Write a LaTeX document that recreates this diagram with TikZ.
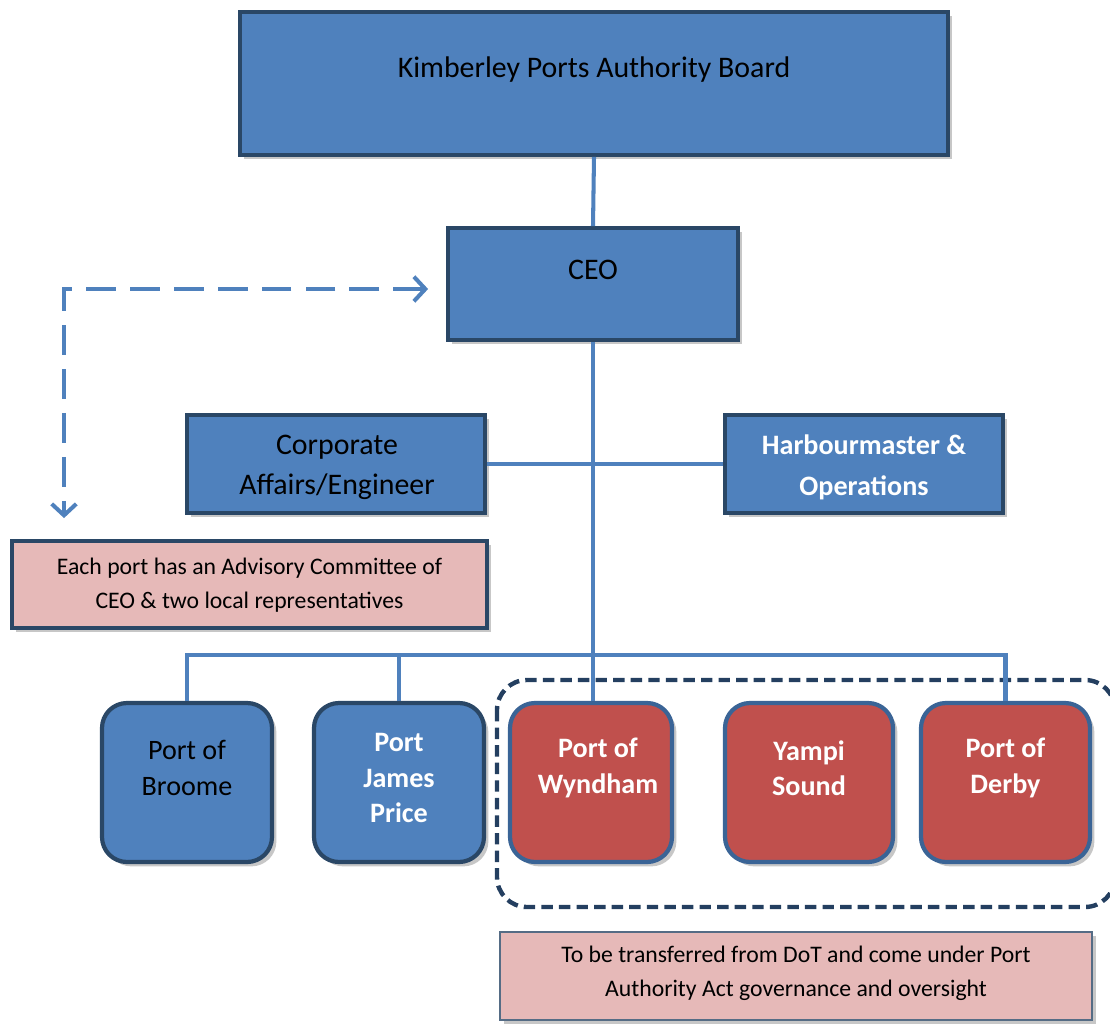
\documentclass[tikz,border=0pt]{standalone}
\usepackage{fontspec}
\setmainfont{Carlito}
\usepackage{tikz}
\usetikzlibrary{arrows.meta}
\usetikzlibrary{fit}
\usetikzlibrary{shadows}

\definecolor{kpaBlue}{HTML}{4F81BD}
\definecolor{kpaNavy}{HTML}{2A4766}
\definecolor{kpaEdge}{HTML}{3A6496}
\definecolor{kpaRed}{HTML}{C0504D}
\definecolor{kpaPink}{HTML}{E6B9B8}
\definecolor{kpaDash}{HTML}{243F60}

\tikzset{
	boxshadow/.style={drop shadow={shadow xshift=2.5pt, shadow yshift=-2.5pt, fill=black, opacity=0.22}},
	bluebox/.style={draw=kpaNavy, line width=2.2pt, fill=kpaBlue, inner sep=0pt, boxshadow},
	pinkbox/.style={draw=kpaNavy, line width=2.2pt, fill=kpaPink, inner sep=0pt, boxshadow},
	portbox/.style={line width=2.4pt, rounded corners=0.5cm, inner sep=0pt, boxshadow},
	link/.style={draw=kpaBlue, line width=2.3pt},
	bigtxt/.style={align=center, font=\fontsize{17}{21}\selectfont},
	porttxt/.style={align=center, text=white, font=\fontsize{16}{20}\selectfont\bfseries},
	smalltxt/.style={align=center, font=\fontsize{13.5}{19.5}\selectfont}
}

\begin{document}
\begin{tikzpicture}
		\useasboundingbox (0,0) rectangle (22.2,-20.5);

		% group of ports to be transferred
		\draw[kpaDash, line width=2.5pt, dash pattern=on 6.5pt off 3.5pt, rounded corners=0.6cm]
				(9.94,-13.60) rectangle (22.30,-18.14);

		% top of the chart
		\node[bluebox, fit={(4.80,-0.24)(18.96,-3.10)}](board){};
		\node[bigtxt] (boardtxt) at (11.88,-1.40){Kimberley Ports Authority Board};
		\node[bluebox, fit={(8.96,-4.56)(14.76,-6.80)}](ceo){};
		\node[bigtxt] (ceotxt) at (11.86,-5.40){CEO};

		\node[bluebox, fit={(3.74,-8.30)(9.70,-10.26)}](corp){};
		\node[bigtxt, font=\fontsize{17}{23}\selectfont] (corptxt) at (6.74,-9.35){Corporate\\Affairs/Engineer};
		\node[bluebox, fit={(14.50,-8.30)(20.06,-10.26)}](harb){};
		\node[bigtxt, font=\fontsize{16}{23}\selectfont\bfseries, text=white] (harbtxt) at (17.28,-9.35){Harbourmaster \&\\Operations};

		\node[pinkbox, fit={(0.24,-10.82)(9.74,-12.56)}](advisory){};
		\node[smalltxt] (advisorytxt) at (4.99,-11.71){Each port has an Advisory Committee of\\CEO \& two local representatives};

		% the ports
		\node[portbox, draw=kpaNavy, fill=kpaBlue, fit={(2.04,-14.06)(5.44,-17.24)}](broome){};
		\node[porttxt, text=black, font=\fontsize{16}{20}\selectfont] (broometxt) at (3.74,-15.36){Port of\\Broome};
		\node[portbox, draw=kpaNavy, fill=kpaBlue, fit={(6.28,-14.06)(9.68,-17.24)}](james){};
		\node[porttxt] (jamestxt) at (7.98,-15.56){Port\\James\\Price};
		\node[portbox, draw=kpaEdge, fill=kpaRed, fit={(10.20,-14.06)(13.44,-17.24)}](wyndham){};
		\node[porttxt] (wyndhamtxt) at (11.96,-15.36){Port of\\Wyndham};
		\node[portbox, draw=kpaEdge, fill=kpaRed, fit={(14.50,-14.06)(17.86,-17.24)}](yampi){};
		\node[porttxt] (yampitxt) at (16.18,-15.36){Yampi\\Sound};
		\node[portbox, draw=kpaEdge, fill=kpaRed, fit={(18.42,-14.06)(21.80,-17.24)}](derby){};
		\node[porttxt] (derbytxt) at (20.11,-15.36){Port of\\Derby};

		\node[pinkbox, draw=kpaNavy!80, line width=1pt, fit={(10.00,-18.64)(21.84,-20.40)}](transfer){};
		\node[smalltxt] (transfertxt) at (15.92,-19.47){To be transferred from DoT and come under Port\\Authority Act governance and oversight};

		% connectors
		\coordinate (bus) at (11.88,-13.10);
		\coordinate (bend) at (1.28,-5.78);
		\draw[link] (board.south) -- (ceo.north);
		\draw[link] (ceo.south) -- (wyndham.north -| ceo.south);
		\draw[link] (corp.east) -- (harb.west);
		\draw[link] (broome.north) |- (bus) -| (derby.north);
		\draw[link] (james.north) -- (james.north |- bus);
		\draw[kpaBlue, line width=2.3pt, dash pattern=on 17pt off 8pt, {Straight Barb[length=6.5pt,width=14pt,line width=2.3pt]}-{Straight Barb[length=6.5pt,width=14pt,line width=2.3pt]}]
				([xshift=-0.36cm]ceo.west |- bend) -- (bend) -- ([yshift=0.42cm]advisory.north -| bend);
\end{tikzpicture}
\end{document}
